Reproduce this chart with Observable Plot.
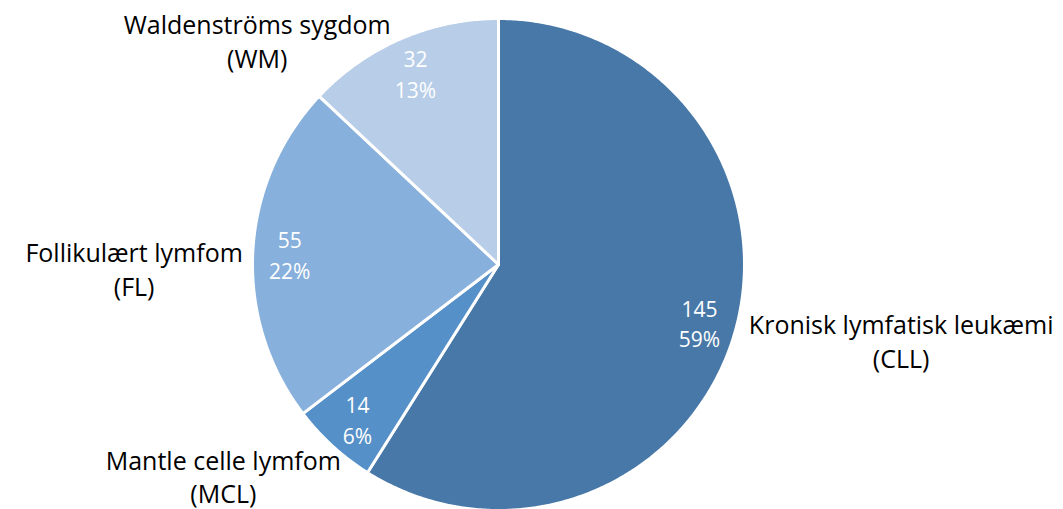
<!DOCTYPE html>
<html>
<head>
<meta charset="utf-8">
<script src="https://cdn.jsdelivr.net/npm/d3@7"></script>
<script src="https://cdn.jsdelivr.net/npm/@observablehq/plot@0.6"></script>
<style>
  html, body { margin: 0; padding: 0; background: #fff; }
  #chart { width: 1063px; height: 509px; }
</style>
</head>
<body>
<div id="chart"></div>
<script>
// ---- data ----
const names = ["Kronisk lymfatisk leukæmi", "Mantle celle lymfom", "Follikulært lymfom", "Waldenströms sygdom"];
const abbrevs = ["CLL", "MCL", "FL", "WM"];
const counts = [145, 14, 55, 32];
const colors = ["#4878a8", "#5590c8", "#88b0dc", "#b8cde8"];

// ---- layout ----
const W = 1063, H = 509;
const cx = 498, cy = 264, R = 246;
const FONT = "Open Sans";
const outerSize = 25, innerSize = 21;

const total = d3.sum(counts);
const arcs = d3.pie().sort(null).value(d => d)(counts);

// sector polygons (unit radius, y up)
const sectorPts = [];
arcs.forEach((a, i) => {
  sectorPts.push({k: abbrevs[i], x: 0, y: 0});
  const n = Math.max(2, Math.ceil((a.endAngle - a.startAngle) / (Math.PI / 360)));
  for (let j = 0; j <= n; j++) {
    const t = a.startAngle + (a.endAngle - a.startAngle) * j / n;
    sectorPts.push({k: abbrevs[i], x: Math.sin(t), y: Math.cos(t)});
  }
  sectorPts.push({k: abbrevs[i], x: 0, y: 0});
});

// inner labels
const inner = arcs.map((a, i) => {
  const m = (a.startAngle + a.endAngle) / 2;
  return {x: 0.85 * Math.sin(m), y: 0.85 * Math.cos(m),
          t: `${counts[i]}\n${Math.round(counts[i] / total * 100)}%`};
});

// outer labels (placement rule approximating Excel "outside end")
const ctx = document.createElement("canvas").getContext("2d");
ctx.font = `${outerSize}px "${FONT}"`;
const outer = arcs.map((a, i) => {
  const m = (a.startAngle + a.endAngle) / 2;
  const s = Math.sin(m), c = Math.cos(m);
  const w = Math.max(ctx.measureText(names[i]).width, ctx.measureText(`(${abbrevs[i]})`).width);
  const right = s >= 0;
  const gap = right ? 14 : 10 + 25 * Math.min(0, c);
  const dy = 17 - 17 * c - (right ? 14 : 0);
  return {x: s + (right ? 1 : -1) * (gap + w / 2) / R, y: c - dy / R, t: `${names[i]}\n(${abbrevs[i]})`};
});

const chart = Plot.plot({
  width: W, height: H,
  margin: 0,
  x: {domain: [-cx / R, (W - cx) / R], axis: null},
  y: {domain: [-(H - cy) / R, cy / R], axis: null},
  color: {domain: abbrevs, range: colors},
  style: {background: "#fff", fontFamily: `"${FONT}"`},
  marks: [
    Plot.line(sectorPts, {x: "x", y: "y", z: "k", fill: "k", stroke: "#fff", strokeWidth: 3, strokeLinejoin: "round"}),
    Plot.text(inner, {x: "x", y: "y", text: "t", fill: "#fff", fontSize: innerSize, lineHeight: 1.45, lineAnchor: "middle", textAnchor: "middle"}),
    Plot.text(outer, {x: "x", y: "y", text: "t", fill: "#000", fontSize: outerSize, lineHeight: 1.35, lineAnchor: "middle", textAnchor: "middle"})
  ]
});
document.getElementById("chart").appendChild(chart);
</script>
</body>
</html>
